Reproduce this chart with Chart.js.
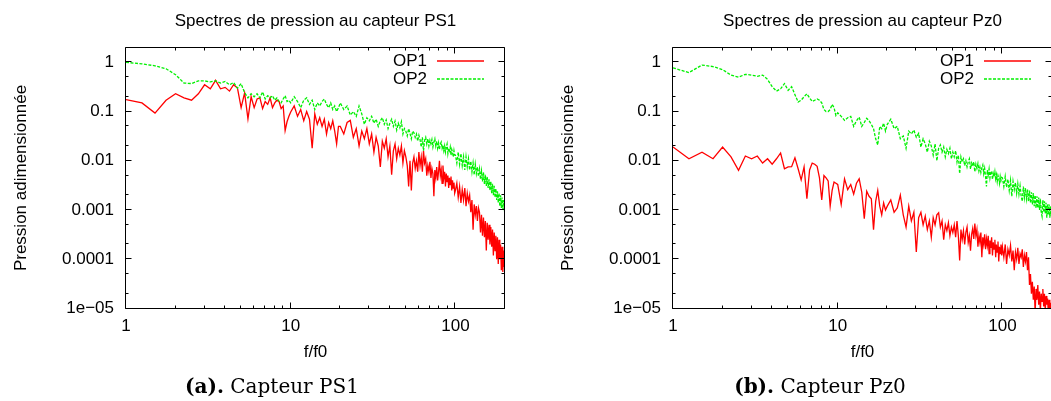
<!DOCTYPE html>
<html>
<head>
<meta charset="utf-8">
<script src="https://cdn.jsdelivr.net/npm/chart.js@4.4.1/dist/chart.umd.min.js"></script>
<style>
html,body{margin:0;padding:0;background:#fff;overflow:hidden;width:1051px;height:401px;}
canvas{position:absolute;top:0;}
#c1{left:0;}
#c2{left:547px;}
.cap{position:absolute;top:375px;width:360px;text-align:center;font-family:'DejaVu Serif','Liberation Serif',serif;font-size:20px;line-height:22px;color:#000;white-space:nowrap;}
</style>
</head>
<body>
<canvas id="c1" width="525" height="401" style="width:525px;height:401px"></canvas>
<canvas id="c2" width="525" height="401" style="width:525px;height:401px"></canvas>
<div class="cap" id="cap1" style="left:92px"><b>(a).</b> Capteur PS1</div>
<div class="cap" id="cap2" style="left:640px"><b>(b).</b> Capteur Pz0</div>
<script>
// ---- data ----
const freq = [1,1.25,1.5,1.75,2,2.25,2.5,2.75,3,3.25,3.5,3.75,4,4.25,4.5,4.75,5,5.25,5.5,5.75,6,6.25,6.5,6.75,7,7.25,7.5,7.75,8,8.25,8.5,8.75,9,9.25,9.5,9.75,
10,10.5,11,11.5,12,12.5,13,13.5,14,14.5,15,15.5,16,16.5,17,17.5,18,18.5,19,19.5,
20,21,22,23,24,25,26,27,28,29,30,31,32,33,34,35,36,37,38,39,40,41,42,43,44,45,46,47,48,49,
50,51,52,53,54,55,56,57,58,59,60,61,62,63,64,65,66,67,68,69,70,71,72,73,74,75,76,77,78,79,80,81,82,83,84,85,86,87,88,89,90,91,92,93,94,95,96,97,98,99,
100,102,104,106,108,110,112,114,116,118,120,122,124,126,128,130,132,134,136,138,140,142,144,146,148,150,152,154,156,158,160,162,164,166,168,170,172,174,176,178,180,182,184,186,188,190,192,194,196,198,200];

const ps1OP1 = [0.175,0.15,0.093,0.17,0.23,0.19,0.17,0.23,0.35,0.29,0.43,0.29,0.31,0.26,0.35,0.3,0.12,0.24,0.071,0.2,0.12,0.18,0.19,0.115,0.16,0.14,0.19,0.12,0.15,0.17,0.16,0.115,0.13,0.041,0.062,0.08,
0.098,0.13,0.08,0.11,0.065,0.1,0.07,0.018,0.09,0.055,0.075,0.05,0.07,0.035,0.06,0.045,0.065,0.04,0.022,0.05,
0.05,0.035,0.06,0.066,0.03,0.045,0.02,0.04,0.028,0.045,0.022,0.035,0.015,0.03,0.02,0.0075,0.025,0.018,0.028,0.012,0.02,0.0052,0.016,0.022,0.011,0.018,0.013,0.02,0.009,0.016,
0.012,0.008,0.003,0.01,0.0025,0.009,0.012,0.007,0.01,0.006,0.015,0.008,0.012,0.006,0.016,0.009,0.011,0.005,0.008,0.006,
0.0095,0.0045,0.007,0.0055,0.0019,0.0065,0.0045,0.0075,0.004,0.006,0.01,0.005,0.0065,0.0035,0.008,0.0045,0.006,0.003,0.0055,0.0038,
0.005,0.0028,0.0045,0.0033,0.0048,0.0025,0.004,0.0028,0.0036,0.0022,
0.0025,0.0035,0.0018,0.003,0.0014,0.0026,0.0016,0.0028,0.0012,0.0022,0.0015,0.002,0.0009,0.0016,0.0004,0.0013,0.0008,0.0012,0.0006,0.0011,
0.0009,0.00035,0.0008,0.0003,0.0007,0.00028,0.0006,0.00015,0.00055,0.00025,0.0005,0.0002,0.00045,0.00018,0.0004,0.00012,0.00035,0.00015,0.0003,0.0001,
0.00028,0.00008,0.00025,0.0001,0.0002,0.00006,0.00018,0.000055,0.00015,0.00007,0.00009];

const ps1OP2 = [1.0,0.93,0.85,0.74,0.56,0.38,0.37,0.42,0.42,0.40,0.42,0.38,0.41,0.35,0.39,0.30,0.37,0.24,0.19,0.23,0.20,0.23,0.19,0.25,0.18,0.21,0.19,0.21,0.17,0.19,0.16,0.15,0.18,0.21,0.16,0.17,
0.15,0.20,0.16,0.12,0.17,0.19,0.14,0.17,0.11,0.15,0.13,0.16,0.18,0.14,0.12,0.15,0.11,0.13,0.10,0.12,
0.15,0.11,0.13,0.085,0.10,0.08,0.13,0.09,0.055,0.075,0.065,0.08,0.058,0.07,0.05,0.065,0.075,0.055,0.068,0.045,0.058,0.07,0.05,0.064,0.042,0.058,0.047,0.062,0.035,0.045,
0.04,0.032,0.045,0.036,0.028,0.04,0.037,0.03,0.035,0.025,0.033,0.027,0.019,0.03,0.016,0.026,0.03,0.022,0.028,0.02,
0.026,0.022,0.027,0.019,0.024,0.028,0.02,0.025,0.018,0.023,0.017,0.022,0.024,0.018,0.021,0.016,0.02,0.015,0.019,0.022,
0.014,0.018,0.016,0.019,0.013,0.017,0.015,0.012,0.016,0.013,
0.013,0.009,0.015,0.0085,0.014,0.008,0.012,0.0065,0.012,0.0075,0.011,0.0065,0.0098,0.006,0.009,0.0052,0.0085,0.0055,0.0075,0.0048,
0.0068,0.0042,0.0062,0.0038,0.0058,0.0034,0.0052,0.0031,0.0047,0.0028,0.0042,0.0025,0.0038,0.0022,0.0034,0.002,0.0031,0.0018,0.0027,0.0016,
0.0024,0.0014,0.0022,0.0012,0.002,0.0011,0.0018,0.001,0.0016,0.0011,0.0014];

const pz0OP1 = [0.019,0.011,0.015,0.011,0.019,0.012,0.0064,0.0125,0.011,0.0125,0.009,0.011,0.0085,0.011,0.0144,0.0069,0.0075,0.0076,0.0115,0.0069,
0.0041,0.0075,0.0017,0.0065,0.009,0.0085,0.0077,0.0045,0.0016,0.005,0.0045,0.0039,0.0012,0.0025,0.0037,0.0035,
0.0033,0.0013,0.0043,0.0026,0.0033,0.0021,0.0035,0.0043,0.0023,0.00067,0.0024,0.0019,0.0017,0.0004,0.0015,0.0025,0.0012,0.0008,0.0014,0.001,
0.0012,0.0016,0.0009,0.0011,0.002,0.0008,0.00045,0.0012,0.0006,0.0009,0.00014,0.0007,0.0009,0.0005,0.00075,0.0004,0.0006,0.00028,0.0007,0.0005,
0.0008,0.00088,0.00045,0.0006,0.00025,0.0005,0.00038,0.00055,0.0003,0.00045,
0.00035,0.0005,0.00028,0.0006,0.0003,0.000095,0.0004,0.00025,0.00038,0.0002,0.00035,0.00045,0.00022,0.0003,0.00015,0.00032,0.00042,0.00026,0.00053,0.0003,
0.0004,0.00018,0.0003,0.00022,0.00035,0.00011,0.00028,0.0002,0.00032,0.00016,0.00026,0.00019,0.0003,0.00013,0.00024,0.00017,0.00028,0.00012,0.00022,0.00016,
0.00025,0.00011,0.0002,0.00014,0.00023,0.00009,0.00018,0.00013,0.0002,0.00012,
0.00018,0.00011,0.0002,0.00008,0.00016,0.00012,0.00019,0.00009,0.00015,0.00006,0.00014,0.0001,0.00017,0.00008,0.00013,0.00011,0.00016,0.00007,0.00012,0.00009,
0.00014,0.00006,0.00011,0.00003,0.00005,0.00002,0.000035,0.000015,0.000028,0.000008,0.000025,0.000015,0.00003,0.000012,0.000022,0.000009,0.00002,0.000014,0.000025,0.000011,
0.00002,0.000009,0.000018,0.000012,0.000016,0.000008,0.000015,0.00001,0.000013,0.000008,0.000012];

const pz0OP2 = [0.77,0.62,0.88,0.82,0.71,0.55,0.5,0.57,0.55,0.52,0.55,0.45,0.32,0.26,0.29,0.37,0.27,0.32,0.22,0.156,
0.17,0.2,0.23,0.19,0.16,0.17,0.18,0.17,0.15,0.11,0.1,0.1,0.11,0.14,0.12,0.083,
0.094,0.08,0.066,0.075,0.08,0.05,0.065,0.077,0.05,0.06,0.073,0.065,0.055,0.045,0.028,0.021,0.05,0.045,0.058,0.04,
0.055,0.07,0.045,0.05,0.028,0.032,0.018,0.04,0.035,0.042,0.03,0.036,0.019,0.028,0.022,0.015,0.025,0.02,0.013,0.022,
0.01,0.018,0.021,0.015,0.019,0.012,0.017,0.014,0.018,0.011,
0.015,0.012,0.016,0.0095,0.013,0.0055,0.012,0.0095,0.011,0.008,0.01,0.0075,0.0095,0.011,0.0068,0.009,0.0078,0.0095,0.006,0.0085,
0.007,0.0088,0.0062,0.0075,0.0058,0.0072,0.0082,0.0055,0.007,0.0048,0.003,0.0065,0.0052,0.0068,0.0045,0.0058,0.0062,0.0042,0.0055,0.0047,
0.006,0.0043,0.0052,0.0038,0.005,0.0044,0.0035,0.0048,0.004,0.0046,
0.0045,0.003,0.0048,0.0029,0.0042,0.0025,0.004,0.0019,0.0038,0.0026,0.0036,0.0022,0.0034,0.0021,0.0031,0.0019,0.0015,0.003,0.0018,0.0028,
0.0017,0.0026,0.0015,0.0025,0.0014,0.0023,0.0013,0.0022,0.0012,0.002,0.0011,0.0019,0.0011,0.0018,0.001,0.0017,0.0009,0.00075,0.0016,0.0009,
0.0015,0.00085,0.0014,0.0007,0.0013,0.0008,0.0013,0.0007,0.0012,0.00075,0.0011];

const seriesNames = ['OP1', 'OP2'];
const panelTitles = ['Spectres de pression au capteur PS1', 'Spectres de pression au capteur Pz0'];
const xAxisTitle = 'f/f0';
const yAxisTitle = 'Pression adimensionnée';
const xTickValues = [1, 10, 100];
const xTickLabels = ['1', '10', '100'];
const yTickValues = [1e-5, 1e-4, 1e-3, 1e-2, 1e-1, 1];
const yTickLabels = ['1e\u221205', '0.0001', '0.001', '0.01', '0.1', '1'];
const xMinorTicks = [2,3,4,5,6,7,8,9,20,30,40,50,60,70,80,90,200];
const yMinorTicks = [2e-5,5e-5,2e-4,5e-4,2e-3,5e-3,2e-2,5e-2,0.2,0.5];
const xRange = [1, 200];
const yRange = [1e-5, 2];

// ---- chart ----
Chart.defaults.font.family = "'Liberation Sans', Arial, sans-serif";
Chart.defaults.font.size = 17;
Chart.defaults.color = '#000';

const RED = '#ff0000';
const GREEN = '#00f000';

const framePlugin = {
  id: 'frameTicks',
  afterDatasetsDraw(chart) {
    const {ctx, chartArea: a, scales} = chart;
    const xs = scales.x, ys = scales.y;
    const c = v => Math.round(v) - 0.5;
    const L = c(a.left), R = c(a.right), T = c(a.top), B = c(a.bottom);
    ctx.save();
    ctx.strokeStyle = '#000';
    ctx.lineWidth = 1;
    ctx.setLineDash([]);
    ctx.beginPath();
    ctx.rect(L, T, R - L, B - T);
    const tick = (vals, len, isX) => {
      vals.forEach(v => {
        if (isX) {
          const p = c(xs.getPixelForValue(v));
          ctx.moveTo(p, B); ctx.lineTo(p, B - len);
          ctx.moveTo(p, T); ctx.lineTo(p, T + len);
        } else {
          const p = c(ys.getPixelForValue(v));
          ctx.moveTo(L, p); ctx.lineTo(L + len, p);
          ctx.moveTo(R, p); ctx.lineTo(R - len, p);
        }
      });
    };
    tick(xTickValues, 6, true);
    tick(xMinorTicks, 3, true);
    tick(yTickValues, 6, false);
    tick(yMinorTicks, 3, false);
    ctx.stroke();
    ctx.restore();
    // legend (gnuplot style: text then sample)
    chart.data.datasets.forEach((ds, i) => {
      const yy = a.top + 13.5 + i * 18;
      ctx.save();
      ctx.fillStyle = '#000';
      ctx.font = "17px 'Liberation Sans', Arial, sans-serif";
      ctx.textAlign = 'right';
      ctx.textBaseline = 'middle';
      ctx.fillText(ds.label, a.right - 78, yy);
      ctx.restore();
      ctx.save();
      ctx.strokeStyle = ds.borderColor;
      ctx.lineWidth = 1.5;
      ctx.setLineDash(ds.borderDash || []);
      ctx.beginPath();
      ctx.moveTo(a.right - 68, Math.round(yy));
      ctx.lineTo(a.right - 21, Math.round(yy));
      ctx.stroke();
      ctx.restore();
    });
  }
};

function makeChart(id, title, op1, op2) {
  const pts = vals => freq.map((f, i) => ({x: f, y: vals[i]}));
  return new Chart(document.getElementById(id), {
    type: 'line',
    data: {
      datasets: [
        {label: seriesNames[0], data: pts(op1), borderColor: RED, borderWidth: 1.3, pointRadius: 0, tension: 0, order: 2, clip: 0},
        {label: seriesNames[1], data: pts(op2), borderColor: GREEN, borderWidth: 1.3, borderDash: [3, 1.5], pointRadius: 0, tension: 0, order: 1, clip: 0}
      ]
    },
    options: {
      responsive: false,
      devicePixelRatio: 1,
      animation: false,
      events: [],
      layout: {padding: {left: 0, right: 20, top: 0, bottom: 0}},
      plugins: {
        legend: {display: false},
        tooltip: {enabled: false},
        title: {display: true, text: title, fullSize: false, color: '#000',
                font: {size: 17, weight: 'normal'}, padding: {top: 10.8, bottom: 16.3}}
      },
      scales: {
        x: {
          type: 'logarithmic', position: 'bottom', min: xRange[0], max: xRange[1],
          grid: {display: false, drawTicks: false},
          border: {display: false},
          afterBuildTicks: s => { s.ticks = xTickValues.map(v => ({value: v})); },
          afterFit: s => { s.height = 92.5; },
          ticks: {padding: 8, autoSkip: false, maxRotation: 0,
                  callback: v => xTickLabels[xTickValues.indexOf(v)]},
          title: {display: true, text: xAxisTitle, padding: {top: 0, bottom: 38.3}}
        },
        y: {
          type: 'logarithmic', position: 'left', min: yRange[0], max: yRange[1],
          grid: {display: false, drawTicks: false},
          border: {display: false},
          afterBuildTicks: s => { s.ticks = yTickValues.map(v => ({value: v})); },
          afterFit: s => { s.width = 126; },
          ticks: {padding: 12, autoSkip: false,
                  callback: v => yTickLabels[yTickValues.indexOf(v)]},
          title: {display: true, text: yAxisTitle, padding: {top: 10.8, bottom: 0}}
        }
      }
    },
    plugins: [framePlugin]
  });
}

makeChart('c1', panelTitles[0], ps1OP1, ps1OP2);
makeChart('c2', panelTitles[1], pz0OP1, pz0OP2);
</script>
</body>
</html>
